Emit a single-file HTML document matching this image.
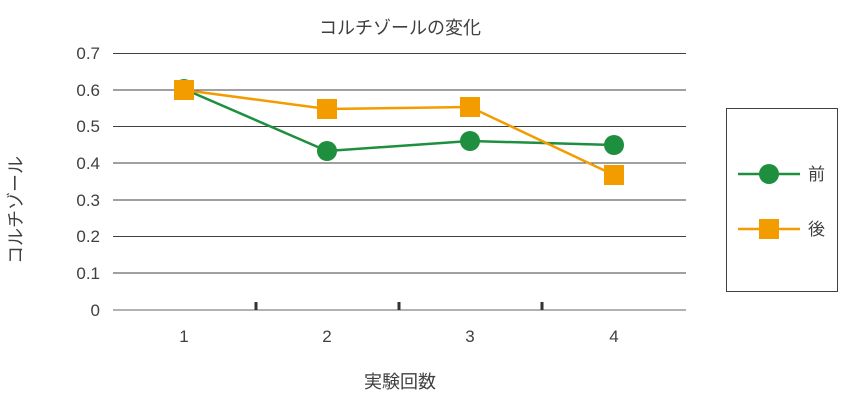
<!DOCTYPE html><html><head><meta charset="utf-8"><style>body{margin:0;background:#fff}svg{display:block}text{font-family:"Liberation Sans","Noto Sans CJK JP",sans-serif;fill:#404040}</style></head><body>
<svg width="842" height="419" viewBox="0 0 842 419">
<text x="400" y="34" font-size="18" text-anchor="middle">コルチゾールの変化</text>
<g stroke="#404040" stroke-width="1">
<line x1="113" y1="53.5" x2="686" y2="53.5"/><line x1="113" y1="90" x2="686" y2="90"/><line x1="113" y1="126.5" x2="686" y2="126.5"/><line x1="113" y1="163" x2="686" y2="163"/><line x1="113" y1="200" x2="686" y2="200"/><line x1="113" y1="236.5" x2="686" y2="236.5"/><line x1="113" y1="273" x2="686" y2="273"/>
</g>
<line x1="113" y1="310" x2="686" y2="310" stroke="#999" stroke-width="1.5"/>
<g stroke="#333" stroke-width="3"><line x1="256" y1="302" x2="256" y2="310"/><line x1="399" y1="302" x2="399" y2="310"/><line x1="542" y1="302" x2="542" y2="310"/></g>
<g font-size="17" text-anchor="end"><text x="100" y="59">0.7</text><text x="100" y="96">0.6</text><text x="100" y="132">0.5</text><text x="100" y="169">0.4</text><text x="100" y="206">0.3</text><text x="100" y="242">0.2</text><text x="100" y="279">0.1</text><text x="100" y="316">0</text></g>
<g font-size="17" text-anchor="middle"><text x="184" y="342">1</text><text x="327" y="342">2</text><text x="470" y="342">3</text><text x="614" y="342">4</text></g>
<text x="400" y="388" font-size="18" text-anchor="middle">実験回数</text>
<text transform="translate(22,210) rotate(-90)" font-size="18" text-anchor="middle">コルチゾール</text>
<polyline points="184,89 327,151 470,141 614,145" fill="none" stroke="#1e8f3e" stroke-width="2.5"/>
<g fill="#1e8f3e"><circle cx="184" cy="89" r="10"/><circle cx="327" cy="151" r="10"/><circle cx="470" cy="141" r="10"/><circle cx="614" cy="145" r="10"/></g>
<polyline points="184,90 327,109 470,107 614,175" fill="none" stroke="#f39c00" stroke-width="2.5"/>
<g fill="#f39c00"><rect x="174" y="80" width="20" height="20"/><rect x="317" y="99" width="20" height="20"/><rect x="460" y="97" width="20" height="20"/><rect x="604" y="165" width="20" height="20"/></g>
<rect x="726.5" y="108.5" width="111" height="183" fill="none" stroke="#404040"/>
<line x1="738" y1="174" x2="800" y2="174" stroke="#1e8f3e" stroke-width="2.5"/><circle cx="769" cy="174" r="10" fill="#1e8f3e"/>
<text x="808" y="180" font-size="17">前</text>
<line x1="738" y1="229" x2="800" y2="229" stroke="#f39c00" stroke-width="2.5"/><rect x="759" y="219" width="20" height="20" fill="#f39c00"/>
<text x="808" y="235" font-size="17">後</text>
</svg></body></html>
